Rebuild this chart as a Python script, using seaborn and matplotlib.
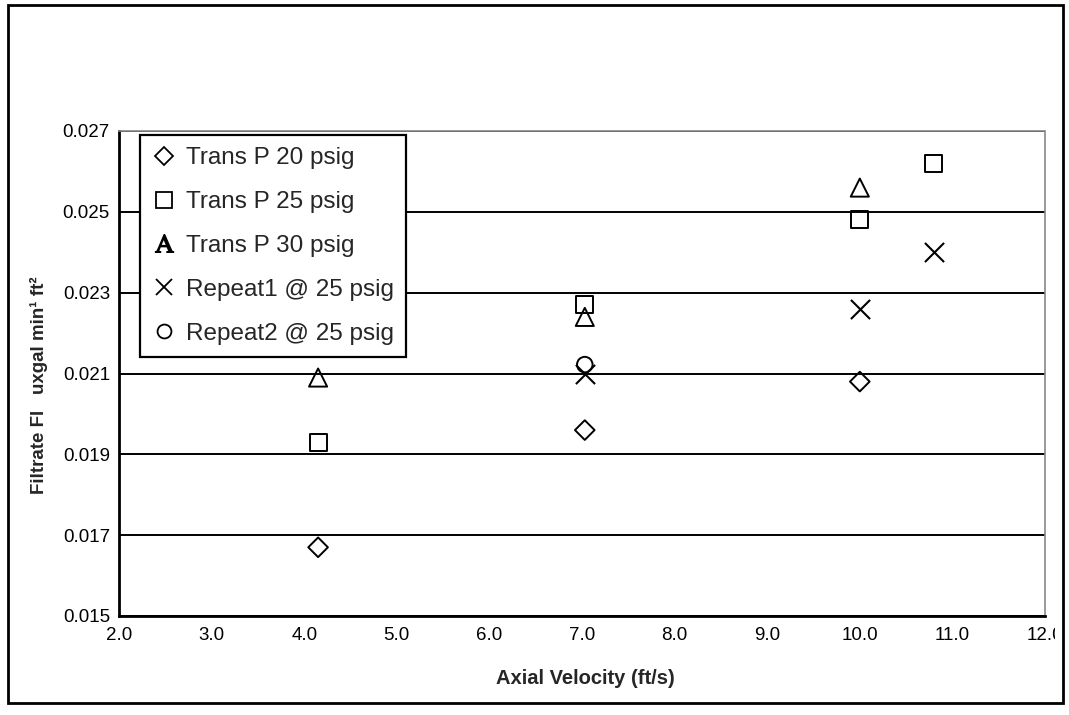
import seaborn as sns
from matplotlib import pyplot as plt
from matplotlib.lines import Line2D
from matplotlib.patches import Rectangle
from matplotlib.transforms import Bbox, TransformedBbox

# data
x_20 = [4.15, 7.03, 10.0]
y_20 = [0.0167, 0.0196, 0.0208]
x_25 = [4.15, 7.03, 10.0, 10.8]
y_25 = [0.0193, 0.0227, 0.0248, 0.0262]
x_30 = [4.15, 7.03, 10.0]
y_30 = [0.0209, 0.0224, 0.0256]
x_rep1 = [7.03, 10.0, 10.8]
y_rep1 = [0.0210, 0.0226, 0.0240]
x_rep2 = [7.03]
y_rep2 = [0.02122]

labels = ["Trans P 20 psig", "Trans P 25 psig", "Trans P 30 psig",
          "Repeat1 @ 25 psig", "Repeat2 @ 25 psig"]
x_ticks = [2.0, 3.0, 4.0, 5.0, 6.0, 7.0, 8.0, 9.0, 10.0, 11.0, 12.0]
y_ticks = [0.015, 0.017, 0.019, 0.021, 0.023, 0.025, 0.027]

sns.set_style("white")
plt.rcParams['font.family'] = ['Liberation Sans', 'DejaVu Sans']
plt.rcParams['mathtext.fontset'] = 'stix'

fig = plt.figure(figsize=(10.69, 7.15), dpi=100)
ax = fig.add_axes([119 / 1069, 1 - 616 / 715, 926 / 1069, 485 / 715])

hollow = dict(facecolor="none", edgecolor="black", linewidth=1.4)
sns.scatterplot(x=x_20, y=y_20, marker="D", s=100, ax=ax, zorder=3, **hollow)
sns.scatterplot(x=x_25, y=y_25, marker="s", s=150, ax=ax, zorder=3, **hollow)
sns.scatterplot(x=x_30, y=y_30, marker="^", s=170, ax=ax, zorder=3, **hollow)
sns.scatterplot(x=x_rep1, y=y_rep1, marker="x", s=190, color="black",
                linewidth=1.5, ax=ax, zorder=3)
sns.scatterplot(x=x_rep2, y=y_rep2, marker="o", s=125, ax=ax, zorder=3, **hollow)

ax.set_xlim(2.0, 12.0)
ax.set_ylim(0.015, 0.027)
ax.set_xticks(x_ticks)
ax.set_yticks(y_ticks)
ax.set_xticklabels([f"{v:.1f}" for v in x_ticks])
ax.set_yticklabels([f"{v:.3f}" for v in y_ticks])
ax.tick_params(axis="both", labelsize=13.5, colors="black", direction="out",
               width=1.3)
ax.tick_params(axis="x", length=5, pad=3)
ax.tick_params(axis="y", length=4, pad=2.5)

ax.yaxis.grid(True, color="black", linewidth=1.4)
ax.set_axisbelow(True)
for side in ["left", "bottom"]:
    ax.spines[side].set_color("black")
    ax.spines[side].set_linewidth(2)
for side in ["top", "right"]:
    ax.spines[side].set_color("#888888")
    ax.spines[side].set_linewidth(1.2)
    ax.spines[side].set_linestyle((0, (3, 1)))

ax.set_xlabel("Axial Velocity (ft/s)", fontsize=14.5, fontweight="bold")
ax.xaxis.set_label_coords(0.504, -0.11)
ax.set_ylabel("Filtrate Fl   uxgal min\u00b9 ft\u00b2", fontsize=13.5,
              fontweight="bold")
ax.yaxis.set_label_coords(-0.0767, 0.475)

# legend (the 30 psig symbol shows up as a serif "A" in the original)
kw = dict(linestyle="none", markerfacecolor="none", markeredgecolor="black",
          markeredgewidth=1.3, color="black")
handles = [
    Line2D([], [], marker="D", markersize=9, **kw),
    Line2D([], [], marker="s", markersize=11, **kw),
    Line2D([], [], marker=r"$\mathrm{A}$", markersize=13, color="black",
           linestyle="none"),
    Line2D([], [], marker="x", markersize=11, **kw),
    Line2D([], [], marker="o", markersize=10, **kw),
]
leg = ax.legend(handles, labels, loc="upper left",
                bbox_to_anchor=(21 / 926, 481 / 485), borderaxespad=0,
                fontsize=17.5, frameon=True, fancybox=False, framealpha=1,
                edgecolor="black", labelspacing=0.9, handlelength=1.0,
                handletextpad=0.4, borderpad=0.5)
leg.get_frame().set_linewidth(1.6)

# outer frame around the whole chart
fig.patches.append(Rectangle((8 / 1069, 12 / 715), 1055 / 1069, 698 / 715,
                             transform=fig.transFigure, fill=False,
                             edgecolor="black", linewidth=2))

# the last x tick label is cut off by the frame
clip = TransformedBbox(Bbox([[0, 0], [1055 / 1069, 1]]), fig.transFigure)
for lab in ax.get_xticklabels():
    lab.set_clip_box(clip)
    lab.set_clip_on(True)

fig.savefig("out.png", dpi=100)
